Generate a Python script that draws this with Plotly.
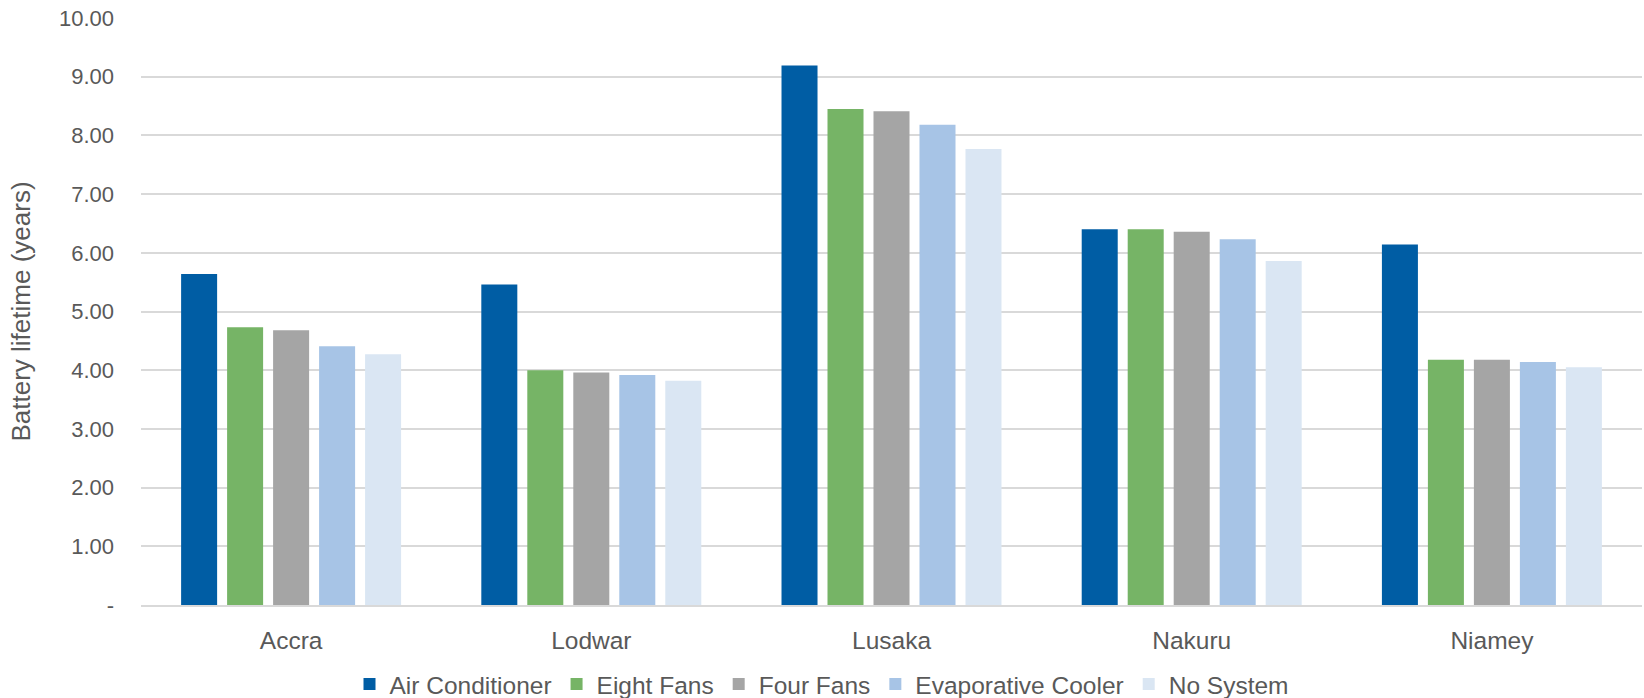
import plotly.graph_objects as go

# Sites and cooling strategies
cities = ["Accra", "Lodwar", "Lusaka", "Nakuru", "Niamey"]

air_conditioner = [5.64, 5.46, 9.19, 6.40, 6.14]
eight_fans = [4.73, 4.00, 8.45, 6.40, 4.18]
four_fans = [4.68, 3.96, 8.41, 6.36, 4.18]
evaporative_cooler = [4.41, 3.92, 8.18, 6.23, 4.14]
no_system = [4.27, 3.82, 7.77, 5.86, 4.05]

y_tick_values = [0, 1, 2, 3, 4, 5, 6, 7, 8, 9, 10]
y_tick_text = ["-", "1.00", "2.00", "3.00", "4.00", "5.00",
               "6.00", "7.00", "8.00", "9.00", "10.00"]

series = [
    ("Air Conditioner", air_conditioner, "#005DA4"),
    ("Eight Fans", eight_fans, "#76B466"),
    ("Four Fans", four_fans, "#A5A5A5"),
    ("Evaporative Cooler", evaporative_cooler, "#A7C4E6"),
    ("No System", no_system, "#DAE6F3"),
]

TEXT = "#595959"
GRID = "#D9D9D9"
FONT = "Liberation Sans, Arial, sans-serif"

fig = go.Figure()
for name, values, color in series:
    fig.add_trace(go.Bar(name=name, x=cities, y=values,
                         marker=dict(color=color, line=dict(width=0))))

fig.update_layout(
    width=1644, height=698,
    barmode="group", bargap=0.234, bargroupgap=0.217,
    plot_bgcolor="white", paper_bgcolor="white",
    margin=dict(l=141, r=2, t=18, b=93),
    font=dict(family=FONT, size=22, color=TEXT),
    legend=dict(orientation="h", xref="container", yref="container",
                x=0.5, xanchor="center", y=0.02, yanchor="middle",
                font=dict(size=24.5, color=TEXT), traceorder="normal",
                itemwidth=30, tracegroupgap=0),
    xaxis=dict(showgrid=False, showline=True, linecolor=GRID, linewidth=2,
               tickfont=dict(size=24.5, color=TEXT), ticklabelstandoff=13),
    yaxis=dict(range=[0, 10], tickvals=y_tick_values, ticktext=y_tick_text,
               showgrid=True, gridcolor=GRID, gridwidth=1.5,
               zeroline=False, showline=False,
               tickfont=dict(size=22, color=TEXT), ticklabelstandoff=26,
               title=dict(text="Battery lifetime (years)",
                          font=dict(size=26, color=TEXT), standoff=20)),
)

fig.write_html("out.html")
